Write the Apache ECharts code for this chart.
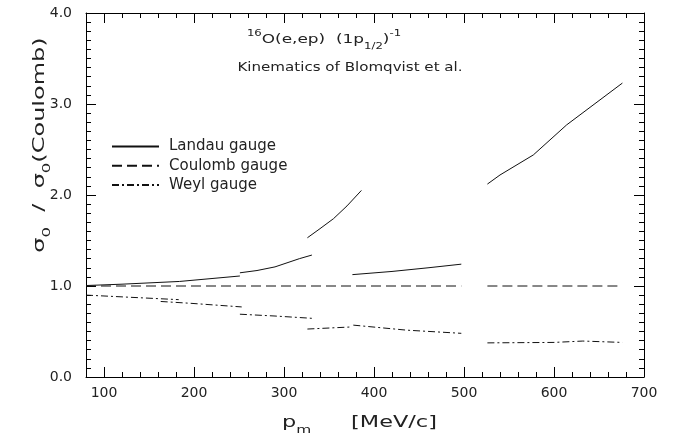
<!DOCTYPE html>
<html><head><meta charset="utf-8">
<script src="https://cdn.jsdelivr.net/npm/echarts@6/dist/echarts.min.js"></script>
<style>html,body{margin:0;padding:0;background:#fff}#c{width:674px;height:436px}</style>
</head><body><div id="c"></div>
<script>
// ---- data (p_m in MeV/c, ratio sigma0 / sigma0(Coulomb)) ----
const xTickLabels = [100, 200, 300, 400, 500, 600, 700];
const yTickLabels = ['0.0', '1.0', '2.0', '3.0', '4.0'];
const seriesNames = ['Landau gauge', 'Coulomb gauge', 'Weyl gauge'];

const landau1 = [[80, 1.005], [120, 1.02], [184, 1.05], [251, 1.11]];
const landau2 = [[251, 1.145], [270, 1.17], [290, 1.21], [317, 1.30], [331, 1.34]];
const landau3 = [[326, 1.53], [340, 1.63], [355, 1.74], [370, 1.88], [386, 2.05]];
const landau4 = [[376, 1.125], [420, 1.16], [460, 1.20], [497, 1.24]];
const landau5 = [[526, 2.12], [540, 2.22], [577, 2.44], [614, 2.77], [676, 3.23]];

const coulomb1 = [[80, 1.0], [497, 1.0]];
const coulomb2 = [[526, 1.0], [676, 1.0]];

const weyl1 = [[80, 0.90], [121, 0.88], [183, 0.85]];
const weyl2 = [[163, 0.83], [196, 0.81], [253, 0.77]];
const weyl3 = [[251, 0.69], [290, 0.67], [331, 0.645]];
const weyl4 = [[326, 0.527], [375, 0.55]];
const weyl5 = [[377, 0.57], [436, 0.515], [497, 0.48]];
const weyl6 = [[526, 0.375], [600, 0.38], [632, 0.395], [676, 0.38]];

function joinSegments(segs) {
  const out = [];
  segs.forEach((s, i) => {
    if (i > 0) out.push(['-', '-']);
    s.forEach(p => out.push(p));
  });
  return out;
}

const FONT = 'DejaVu Sans';
const TXT = '#222';

const chart = echarts.init(document.getElementById('c'), null, {renderer: 'canvas'});

function xAxisMinor(pos) {
  return {
    type: 'value', position: pos, min: 80, max: 700, interval: 20,
    axisLine: {show: true, onZero: false, lineStyle: {color: '#000', width: 1}},
    axisTick: {show: true, inside: true, length: 5, lineStyle: {color: '#000', width: 1}},
    axisLabel: {show: false}, splitLine: {show: false}
  };
}
function xAxisMajor(pos, labels) {
  return {
    type: 'value', position: pos, min: 80, max: 700, splitNumber: 6,
    axisLine: {show: false, onZero: false},
    axisTick: {show: true, inside: true, length: 10, lineStyle: {color: '#000', width: 1}},
    axisLabel: labels ? {
      show: true, showMinLabel: false, showMaxLabel: true, margin: 9,
      fontFamily: FONT, fontSize: 14, color: TXT,
      formatter: v => (xTickLabels.indexOf(v) >= 0 ? String(v) : '')
    } : {show: false},
    splitLine: {show: false}
  };
}
function yAxis(pos, labels) {
  return {
    type: 'value', position: pos, min: 0, max: 4, interval: 1,
    axisLine: {show: true, onZero: false, lineStyle: {color: '#000', width: 1}},
    axisTick: {show: true, inside: true, length: 10, lineStyle: {color: '#000', width: 1}},
    minorTick: {show: true, splitNumber: 10, length: 5, lineStyle: {color: '#000', width: 1}},
    axisLabel: labels ? {
      show: true, margin: 14, fontFamily: FONT, fontSize: 14, color: TXT,
      formatter: v => yTickLabels[Math.round(v)]
    } : {show: false},
    splitLine: {show: false}, minorSplitLine: {show: false}
  };
}

const option = {
  backgroundColor: '#fff',
  animation: false,
  grid: {left: 86, right: 30, top: 13, bottom: 59, containLabel: false, outerBoundsMode: 'none'},
  xAxis: [xAxisMinor('bottom'), xAxisMajor('bottom', true), xAxisMinor('top'), xAxisMajor('top', false)],
  yAxis: [yAxis('left', true), yAxis('right', false)],
  legend: {
    show: true, orient: 'vertical', left: 111, top: 139, padding: 0,
    itemWidth: 47, itemHeight: 14, itemGap: 4.3,
    data: seriesNames,
    itemStyle: {color: 'rgba(0,0,0,0)', opacity: 0, borderWidth: 0},
    textStyle: {fontFamily: FONT, fontSize: 15, color: TXT, padding: [0, 0, 0, 5]}
  },
  series: [
    {name: seriesNames[0], type: 'line', xAxisIndex: 0, yAxisIndex: 0, symbol: 'none', connectNulls: false,
     lineStyle: {color: '#111', width: 1, type: 'solid'}, itemStyle: {color: '#111'},
     data: joinSegments([landau1, landau2, landau3, landau4, landau5])},
    {name: seriesNames[1], type: 'line', xAxisIndex: 0, yAxisIndex: 0, symbol: 'none', connectNulls: false,
     lineStyle: {color: '#111', width: 1, type: [10, 5]}, itemStyle: {color: '#111'},
     data: joinSegments([coulomb1, coulomb2])},
    {name: seriesNames[2], type: 'line', xAxisIndex: 0, yAxisIndex: 0, symbol: 'none', connectNulls: false,
     lineStyle: {color: '#111', width: 1, type: [7, 3, 2, 3]}, itemStyle: {color: '#111'},
     data: joinSegments([weyl1, weyl2, weyl3, weyl4, weyl5, weyl6])}
  ],
  graphic: [
    {type: 'text', x: 324, y: 40, scaleX: 1.3, z: 10,
     style: {text: '{sup|16}O(e,ep)  (1p{sub|1/2}){sup|-1}', align: 'center', verticalAlign: 'middle',
       fontFamily: FONT, fontSize: 13, fill: TXT, lineHeight: 22,
       rich: {sup: {fontSize: 9, fontFamily: FONT, fill: TXT, verticalAlign: 'top', lineHeight: 10},
              sub: {fontSize: 9, fontFamily: FONT, fill: TXT, verticalAlign: 'bottom', lineHeight: 10}}}},
    {type: 'text', x: 350, y: 68, scaleX: 1.16, z: 10,
     style: {text: 'Kinematics of Blomqvist et al.', align: 'center', verticalAlign: 'middle',
       fontFamily: FONT, fontSize: 13, fill: TXT}},
    {type: 'text', x: 40, y: 145, rotation: Math.PI / 2, scaleX: 1.5, z: 10,
     style: {text: 'σ{s|0}  /  σ{s|0}(Coulomb)', align: 'center', verticalAlign: 'middle',
       fontFamily: FONT, fontSize: 16, fill: TXT, lineHeight: 26,
       rich: {s: {fontSize: 11, fontFamily: FONT, fill: TXT, verticalAlign: 'bottom', lineHeight: 12}}}},
    {type: 'text', x: 282, y: 423, scaleX: 1.4, z: 10,
     style: {text: 'p{s|m}', align: 'left', verticalAlign: 'middle',
       fontFamily: FONT, fontSize: 16, fill: TXT, lineHeight: 26,
       rich: {s: {fontSize: 11, fontFamily: FONT, fill: TXT, verticalAlign: 'bottom', lineHeight: 12}}}},
    {type: 'text', x: 394, y: 423, scaleX: 1.4, z: 10,
     style: {text: '[MeV/c]', align: 'center', verticalAlign: 'middle',
       fontFamily: FONT, fontSize: 16, fill: TXT}}
  ]
};
chart.setOption(option);
</script>
</body></html>
